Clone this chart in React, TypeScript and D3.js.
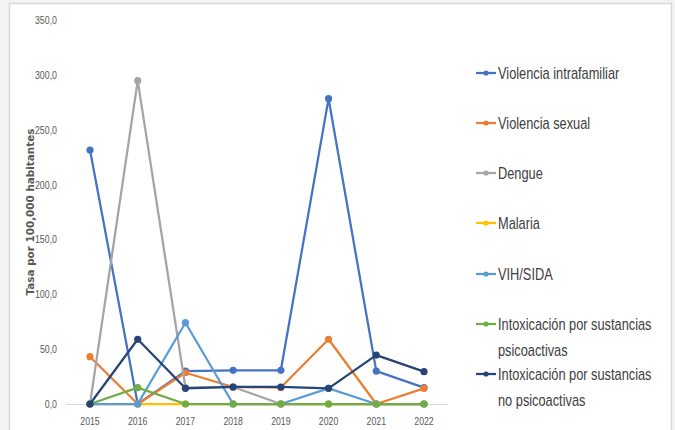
import React from 'react';
import * as d3 from 'd3';

// --- data ---
const years = ['2015', '2016', '2017', '2018', '2019', '2020', '2021', '2022'];
const violenciaIntrafamiliar = [231.5, 0, 30.0, 30.7, 30.7, 278.3, 30.0, 14.9];
const violenciaSexual = [43.1, 0, 28.5, 15.5, 15.0, 59.0, 0, 14.3];
const dengue = [0, 294.7, 15.0, 15.5, 0, 0, 0, 0];
const malaria = [0, 0, 0, 0, 0, 0, 0, 0];
const vihSida = [0, 0, 74.1, 0, 0, 14.3, 0, 0];
const intoxPsicoactivas = [0, 14.9, 0, 0, 0, 0, 0, 0];
const intoxNoPsicoactivas = [0, 59.0, 14.3, 15.5, 15.5, 14.3, 44.6, 29.5];
const yTicks = [0, 50, 100, 150, 200, 250, 300, 350];

const series = [
  { name: ['Violencia intrafamiliar'], values: violenciaIntrafamiliar, color: '#4472C4' },
  { name: ['Violencia sexual'], values: violenciaSexual, color: '#ED7D31' },
  { name: ['Dengue'], values: dengue, color: '#A5A5A5' },
  { name: ['Malaria'], values: malaria, color: '#FFC000' },
  { name: ['VIH/SIDA'], values: vihSida, color: '#5B9BD5' },
  { name: ['Intoxicación por sustancias', 'psicoactivas'], values: intoxPsicoactivas, color: '#70AD47' },
  { name: ['Intoxicación por sustancias', 'no psicoactivas'], values: intoxNoPsicoactivas, color: '#264478' },
];

const W = 675, H = 430;
const sans = '"Liberation Sans", Arial, sans-serif';

// condensed text (stand-in for Calibri): squeeze horizontally
function Narrow({ x, y, sx, children, ...rest }: any) {
  return (
    <text transform={`translate(${x},${y}) scale(${sx},1)`} fontFamily={sans} {...rest}>{children}</text>
  );
}

export default function App() {
  const x = d3.scalePoint<string>().domain(years).range([90, 424]);
  const y = d3.scaleLinear().domain([0, 350]).range([404, 20]);
  const line = d3.line<number>().x((_, i) => x(years[i]) as number).y(d => y(d));

  // legend marker rows (y of marker line)
  const legendY = [73, 123, 173, 223, 274, 324, 374];

  return (
    <svg width={W} height={H} style={{ position: 'absolute', left: 0, top: 0, background: '#f3f3f3' }}>
      <rect x={9.5} y={3.5} width={662} height={440} fill="#fff" stroke="#d9d9d9" strokeWidth={1.5} />

      {/* y axis tick labels */}
      {yTicks.map(t => (
        <Narrow key={t} x={57} y={y(t) + 4} sx={0.8} textAnchor="end" fontSize={11} fill="#595959">
          {d3.format('.1f')(t).replace('.', ',')}
        </Narrow>
      ))}
      <text transform="translate(34,212) rotate(-90)" textAnchor="middle" fontFamily='"DejaVu Sans", sans-serif'
        fontWeight="bold" fontSize={10.4} fill="#595959">Tasa por 100,000 habitantes</text>

      {/* x axis */}
      <line x1={66} x2={448} y1={404.5} y2={404.5} stroke="#d9d9d9" strokeWidth={1} />
      {years.map(yr => (
        <Narrow key={yr} x={x(yr)} y={425} sx={0.76} textAnchor="middle" fontSize={11.5} fill="#595959">{yr}</Narrow>
      ))}

      {/* lines */}
      {series.map(s => (
        <g key={s.name.join(' ')}>
          <path d={line(s.values) || ''} fill="none" stroke={s.color} strokeWidth={2.25} strokeLinejoin="round" />
          {s.values.map((v, i) => (
            <circle key={i} cx={x(years[i])} cy={y(v)} r={3.6} fill={s.color} />
          ))}
        </g>
      ))}

      {/* legend */}
      {series.map((s, k) => {
        const ly = legendY[k];
        return (
          <g key={'lg' + k}>
            <line x1={476} x2={496} y1={ly} y2={ly} stroke={s.color} strokeWidth={2.25} />
            <circle cx={486} cy={ly} r={2.6} fill={s.color} />
            {s.name.map((n, j) => (
              <Narrow key={j} x={498} y={ly + 6 + j * 26} sx={0.8} fontSize={16} fill="#404040">{n}</Narrow>
            ))}
          </g>
        );
      })}
    </svg>
  );
}
